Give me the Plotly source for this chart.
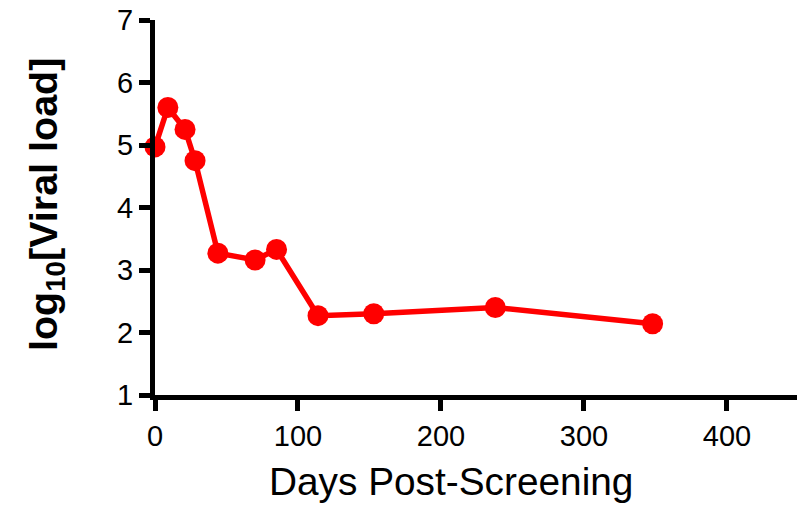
import plotly.graph_objects as go

days = [0, 9, 21, 28, 44, 70, 85, 114, 153, 238, 348]
log_viral_load = [4.97, 5.6, 5.25, 4.75, 3.27, 3.16, 3.33, 2.27, 2.30, 2.40, 2.14]

x_ticks = [0, 100, 200, 300, 400]
y_ticks = [1, 2, 3, 4, 5, 6, 7]
x_title = "Days Post-Screening"
y_title = "<b>log<sub>10</sub>[Viral load]</b>"

FONT = "Liberation Sans, Arial, sans-serif"

fig = go.Figure()
fig.add_trace(go.Scatter(
    x=days, y=log_viral_load,
    mode="lines+markers",
    line=dict(color="#ff0000", width=5.5),
    marker=dict(color="#ff0000", size=21),
    cliponaxis=False,
    showlegend=False,
))

axis_common = dict(
    showgrid=False, zeroline=False,
    showline=True, linecolor="black", linewidth=5,
    ticks="outside", ticklen=11, tickwidth=5, tickcolor="black",
    tickfont=dict(family=FONT, size=29, color="black"),
    automargin=False, ticklabeloverflow="allow",
)

fig.update_layout(
    width=797, height=515,
    margin=dict(l=155, r=0, t=20, b=120),
    paper_bgcolor="white", plot_bgcolor="white",
    xaxis=dict(range=[0, 449], tickvals=x_ticks, **axis_common),
    yaxis=dict(range=[1, 7], tickvals=y_ticks, **axis_common),
    annotations=[
        dict(text=x_title, xref="paper", yref="paper", x=0.461, y=0,
             xanchor="center", yanchor="top", yshift=-63, showarrow=False,
             font=dict(family=FONT, size=38.8, color="black")),
        dict(text=y_title, xref="paper", yref="paper", x=-0.17, y=0.509,
             xanchor="center", yanchor="middle", textangle=-90, showarrow=False,
             font=dict(family=FONT, size=39.5, color="black")),
    ],
)

fig.write_html("out.html", config={"displayModeBar": False},
               post_script="document.body.style.margin='0';")
